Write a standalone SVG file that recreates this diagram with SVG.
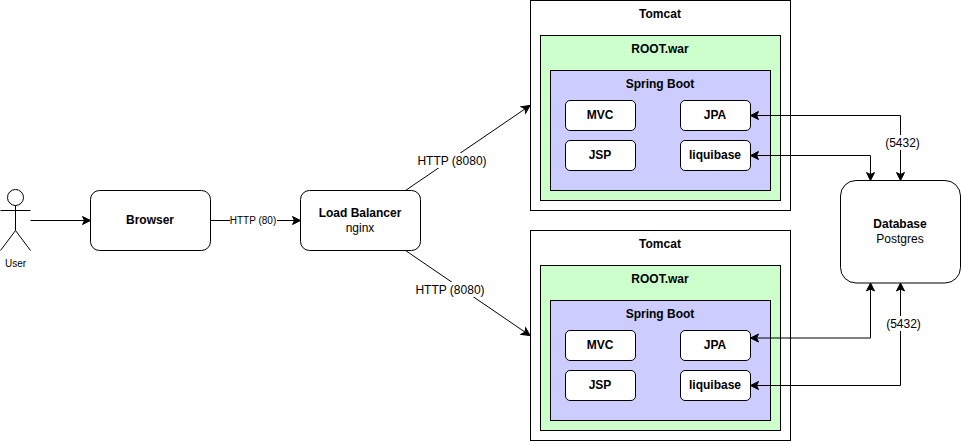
<svg xmlns="http://www.w3.org/2000/svg" width="961" height="441" viewBox="0 0 961 441">
<style>
text{font-family:"Liberation Sans",Arial,sans-serif;font-size:12px;fill:#000;text-anchor:middle}
.b{font-weight:bold}
.s{font-size:10px}
.box{stroke:#000;stroke-width:1;fill:#fff}
.g{fill:#ccffcc}
.p{fill:#ccccff}
.c{fill:none;stroke:#000;stroke-width:1}
.lbl{fill:#fff;stroke:none}
</style>
<defs>
<marker id="a" markerUnits="userSpaceOnUse" markerWidth="10" markerHeight="10" refX="9" refY="5" orient="auto-start-reverse" viewBox="0 0 10 10"><path d="M1 1 L9 5 L1 9 L3 5 Z" fill="#000" stroke="#000"/></marker>
</defs>
<rect width="961" height="441" fill="#fff"/>
<g id="user">
<circle cx="15.5" cy="197.5" r="8" class="box"/>
<path class="c" d="M15.5 205.5V230.5M0.5 210.5H30.5M15.5 230.5L0.5 250.5M15.5 230.5L30.5 250.5"/>
<text class="s" x="15.5" y="267">User</text>
</g>
<g id="browser"><rect class="box" x="90.5" y="190.5" width="120" height="60" rx="9" ry="9"/><text class="b" x="150" y="224">Browser</text></g>
<g id="load-balancer"><rect class="box" x="300.5" y="190.5" width="120" height="60" rx="9" ry="9"/><text class="b" x="360" y="217">Load Balancer</text><text x="360" y="232">nginx</text></g>
<g id="tomcat-1">
<rect class="box" x="530.5" y="0.5" width="260" height="210"/><text class="b" x="660" y="18">Tomcat</text>
</g>
<g id="root-war-1"><rect class="box g" x="540.5" y="35.5" width="240" height="165"/><text class="b" x="660" y="53">ROOT.war</text></g>
<g id="spring-boot-1"><rect class="box p" x="550.5" y="70.5" width="220" height="120"/><text class="b" x="660" y="88">Spring Boot</text></g>
<g id="mvc-1"><rect class="box" x="565.5" y="100.5" width="70" height="30" rx="4.5"/><text class="b" x="600" y="119">MVC</text></g>
<g id="jsp-1"><rect class="box" x="565.5" y="140.5" width="70" height="30" rx="4.5"/><text class="b" x="600" y="159">JSP</text></g>
<g id="jpa-1"><rect class="box" x="680.5" y="100.5" width="70" height="30" rx="4.5"/><text class="b" x="715" y="119">JPA</text></g>
<g id="liquibase-1"><rect class="box" x="680.5" y="140.5" width="70" height="30" rx="4.5"/><text class="b" x="715" y="159">liquibase</text></g>
<g id="tomcat-2">
<rect class="box" x="530.5" y="230.5" width="260" height="210"/><text class="b" x="660" y="248">Tomcat</text>
</g>
<g id="root-war-2"><rect class="box g" x="540.5" y="265.5" width="240" height="165"/><text class="b" x="660" y="283">ROOT.war</text></g>
<g id="spring-boot-2"><rect class="box p" x="550.5" y="300.5" width="220" height="120"/><text class="b" x="660" y="318">Spring Boot</text></g>
<g id="mvc-2"><rect class="box" x="565.5" y="330.5" width="70" height="30" rx="4.5"/><text class="b" x="600" y="349">MVC</text></g>
<g id="jsp-2"><rect class="box" x="565.5" y="370.5" width="70" height="30" rx="4.5"/><text class="b" x="600" y="389">JSP</text></g>
<g id="jpa-2"><rect class="box" x="680.5" y="330.5" width="70" height="30" rx="4.5"/><text class="b" x="715" y="349">JPA</text></g>
<g id="liquibase-2"><rect class="box" x="680.5" y="370.5" width="70" height="30" rx="4.5"/><text class="b" x="715" y="389">liquibase</text></g>
<g id="database"><rect class="box" x="840.5" y="180.5" width="120" height="102.5" rx="15.5"/><text class="b" x="900" y="228">Database</text><text x="900" y="243">Postgres</text></g>
<g id="connectors">
<path class="c" marker-end="url(#a)" d="M30.5 220.5H90.5"/>
<path class="c" marker-end="url(#a)" d="M210.5 220.5H300.5"/>
<path class="c" marker-end="url(#a)" d="M405.5 190.5L530 105.5"/>
<path class="c" marker-end="url(#a)" d="M405.5 250.5L530 335.5"/>
<path class="c" marker-start="url(#a)" marker-end="url(#a)" d="M750.5 115.5H900.5V180.5"/>
<path class="c" marker-start="url(#a)" marker-end="url(#a)" d="M750.5 155.5H870.5V180.5"/>
<path class="c" marker-start="url(#a)" marker-end="url(#a)" d="M750.5 338H870.5V283"/>
<path class="c" marker-start="url(#a)" marker-end="url(#a)" d="M750.5 385.5H900.5V283"/>
<rect class="lbl" x="230" y="214" width="47" height="13"/><text class="s" x="253" y="224">HTTP (80)</text>
<rect class="lbl" x="417" y="153" width="71" height="15"/><text x="452" y="165">HTTP (8080)</text>
<rect class="lbl" x="415" y="282" width="71" height="15"/><text x="450" y="294">HTTP (8080)</text>
<rect class="lbl" x="885" y="135" width="35" height="15"/><text x="902.5" y="147">(5432)</text>
<rect class="lbl" x="886" y="316" width="35" height="15"/><text x="903.5" y="327.5">(5432)</text>
</g>
</svg>
